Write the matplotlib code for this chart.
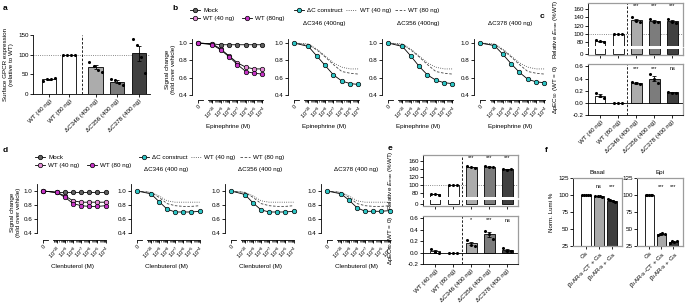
import numpy as np
import matplotlib
matplotlib.use('Agg')
import matplotlib.pyplot as plt
from matplotlib.lines import Line2D

plt.rcParams['font.family'] = ['Liberation Sans', 'DejaVu Sans']
plt.rcParams['mathtext.fontset'] = 'custom'
plt.rcParams['mathtext.rm'] = 'Liberation Sans'
plt.rcParams['mathtext.it'] = 'Liberation Sans:italic'
plt.rcParams['font.size'] = 4.5
plt.rcParams['axes.linewidth'] = 0.6
for k in ['xtick', 'ytick']:
    plt.rcParams[k + '.major.width'] = 0.6
    plt.rcParams[k + '.major.size'] = 2
    plt.rcParams[k + '.minor.width'] = 0.4
    plt.rcParams[k + '.minor.size'] = 1.2
    plt.rcParams[k + '.major.pad'] = 1.2
    plt.rcParams[k + '.labelsize'] = 4.5

# ---- data ----
constructs = ['WT (40 ng)', 'WT (80 ng)', 'ΔC346 (400 ng)', 'ΔC356 (400 ng)', 'ΔC378 (400 ng)']

# a: surface expression (% of WT 80 ng)
surface_pts = [[33, 37, 37, 41], [100, 100, 100, 100], [82, 70, 62, 57],
               [38, 35, 28, 23], [140, 125, 95, 53]]

# b/d: dose response, first value = vehicle (0), then 10^-10 .. 10^-4 M
log_conc = [-10, -9, -8, -7, -6, -5, -4]
epi_mock = [1.00, 0.99, 0.98, 0.98, 0.98, 0.98, 0.98, 0.98]
epi_wt40 = [1.00, 0.99, 0.93, 0.85, 0.77, 0.72, 0.70, 0.70]
epi_wt80 = [1.00, 0.98, 0.92, 0.84, 0.75, 0.67, 0.65, 0.64]
epi_dc = {'ΔC346 (400ng)': [1.00, 0.96, 0.85, 0.74, 0.63, 0.56, 0.53, 0.52],
          'ΔC356 (400ng)': [1.00, 0.96, 0.85, 0.73, 0.63, 0.57, 0.54, 0.53],
          'ΔC378 (400 ng)': [1.00, 0.97, 0.87, 0.76, 0.66, 0.58, 0.55, 0.54]}

clen_mock = [1.00, 0.98, 0.98, 0.98, 0.98, 0.98, 0.98, 0.98]
clen_wt40 = [1.00, 0.98, 0.93, 0.86, 0.84, 0.84, 0.84, 0.84]
clen_wt80 = [1.00, 0.98, 0.91, 0.82, 0.79, 0.78, 0.78, 0.79]
clen_dc = {'ΔC346 (400 ng)': [1.00, 0.96, 0.85, 0.74, 0.70, 0.70, 0.70, 0.71],
           'ΔC356 (400 ng)': [1.00, 0.95, 0.83, 0.73, 0.70, 0.70, 0.70, 0.71],
           'ΔC378 (400 ng)': [1.00, 0.96, 0.87, 0.76, 0.71, 0.71, 0.71, 0.72]}

# c: epinephrine Emax / dpEC50
emax_epi = [[84, 81, 80], [100, 100, 100], [140, 131, 129], [137, 128, 128], [136, 128, 127]]
dpec_epi = [[0.16, 0.12, 0.08], [0, 0, 0], [0.35, 0.32, 0.31], [0.47, 0.40, 0.32], [0.18, 0.17, 0.17]]
emax_epi_sig = ['', '', '***', '***', '***']
dpec_epi_sig = ['', '', '***', '***', 'ns']

# e: clenbuterol Emax / dpEC50
emax_clen = [[77, 78, 76], [100, 100, 100], [147, 145, 143], [148, 146, 144], [141, 138, 139]]
dpec_clen = [[0.06, 0.01, -0.01], [0, 0, 0], [0.22, 0.14, 0.12], [0.38, 0.33, 0.24], [0.08, 0.03, 0.03]]
emax_clen_sig = ['', '', '***', '***', '***']
dpec_clen_sig = ['', '', '*', '***', 'ns']

# f: luminescence
lumi_labels = ['Gs', 'β$_1$AR-s-CT + Gs', 'β$_1$AR-s + Gs']
basal_pts = [[100, 100, 100, 100, 100], [99, 98, 98, 97], [94, 92, 91, 90]]
epi_lumi_pts = [[100, 100, 100, 100, 100], [41, 43, 44, 42], [30, 32, 31, 33]]
basal_sig = ['', 'ns', '***']
epi_lumi_sig = ['', '***', '***']

# ---- style ----
C_MOCK, C_WT40, C_WT80, C_DC = '#606060', '#e68ad8', '#c733c7', '#2cc6c6'
BAR_COLORS = ['white', 'white', '#acacac', '#7c7c7c', '#404040']
FRAME = '#9c9c9c'
ZERO_X = -11.7

W, H = 685, 303
fig = plt.figure(figsize=(W / 100, H / 100), dpi=100)


def px(l, t, r, b):
    return [l / W, 1 - b / H, (r - l) / W, (b - t) / H]


def draw_bars(ax, xs, pts_list, colors, width, jit, points=True):
    for x, pts, c in zip(xs, pts_list, colors):
        m = np.mean(pts)
        s = np.std(pts, ddof=1) / np.sqrt(len(pts))
        ax.bar(x, m, width, color=c, edgecolor='k', lw=0.6, zorder=2)
        if not points:
            continue
        if s > 0:
            ax.errorbar(x, m, yerr=s, color='k', lw=0.6, capsize=1.5, capthick=0.6, zorder=3)
        ax.scatter(x + np.linspace(-jit, jit, len(pts)), pts, s=5, color='k', zorder=4, lw=0)


def rot_labels(ax, labels, size=4.5):
    ax.set_xticklabels(labels, rotation=45, ha='right', rotation_mode='anchor', fontsize=size)


# ---- a ----
ax = fig.add_axes(px(33, 35, 150, 94))
xa = [0, 1, 2.3, 3.35, 4.45]
draw_bars(ax, xa, surface_pts, BAR_COLORS, 0.7, 0.3)
ax.set_xlim(-0.8, 5.0)
ax.set_ylim(0, 150)
ax.set_yticks([0, 50, 100, 150])
ax.axhline(100, ls=':', color='#666666', lw=0.6, zorder=1)
ax.axvline(1.65, ls='--', color='k', lw=0.6, dashes=(3, 2))
ax.spines[['top', 'right']].set_visible(False)
ax.set_xticks(xa)
rot_labels(ax, constructs)
ax.set_ylabel('Surface GPCR expression\n(relative to WT)', labelpad=3)


# ---- b / d ----
def dose_axes(rect, ylo, yhi, xlabel, ylabel=None, title=None, pad=9):
    ax = fig.add_axes(rect)
    ax.set_xlim(-12.45, -3.7)
    ax.set_ylim(ylo, yhi)
    ax.spines[['top', 'right']].set_visible(False)
    ax.spines['left'].set_bounds(0.4, yhi)
    ax.spines['bottom'].set_bounds(-10.5, -3.9)
    ax.set_yticks([0.4, 0.6, 0.8, 1.0])
    ax.set_xticks([ZERO_X] + log_conc)
    rot_labels(ax, ['0'] + ['10$^{%d}$' % d for d in log_conc], size=4)
    minors = [d + np.log10(k) for d in range(-11, -4) for k in range(2, 10)]
    ax.set_xticks([m for m in minors if -10.5 <= m <= -4], minor=True)
    ax.plot([ZERO_X, ZERO_X + 0.6], [ylo, ylo], color='k', lw=0.6, clip_on=False)
    ax.set_xlabel(xlabel, labelpad=2)
    if ylabel:
        ax.set_ylabel(ylabel, labelpad=2)
    if title:
        ax.set_title(title, pad=pad, fontsize=4.5)
    return ax


def curve(ax, y, color=None, ls='-'):
    x = [ZERO_X] + log_conc
    if color is None:
        ax.plot(x, y, ls=ls, color='#444444', lw=0.6, zorder=2)
    else:
        ax.plot(x, y, '-', color='k', lw=0.6, marker='o', ms=3.2, mfc=color,
                mec='k', mew=0.5, zorder=3, clip_on=False)


def dose_row(lefts, top, bottom, ylo, yhi, xlabel, mock, wt40, wt80, dc, pad):
    w = lefts[1] - lefts[0] - 23
    ax = dose_axes(px(lefts[0], top, lefts[0] + w, bottom), ylo, yhi, xlabel,
                   ylabel='Signal change\n(fold over vehicle)')
    curve(ax, mock, C_MOCK)
    curve(ax, wt40, C_WT40)
    curve(ax, wt80, C_WT80)
    for l, (name, vals) in zip(lefts[1:], dc.items()):
        ax = dose_axes(px(l, top, l + w, bottom), ylo, yhi, xlabel, title=name, pad=pad)
        curve(ax, wt40, ls=':')
        curve(ax, wt80, ls=(0, (3, 2)))
        curve(ax, vals, C_DC)


dose_row([192, 288, 382, 474], 38.7, 100, 0.34, 1.05, 'Epinephrine (M)',
         epi_mock, epi_wt40, epi_wt80, epi_dc, 10)
dose_row([37, 131, 225, 321], 184, 240, 0.3, 1.1, 'Clenbuterol (M)',
         clen_mock, clen_wt40, clen_wt80, clen_dc, 9)


def mk(color):
    return Line2D([], [], color='k', lw=0.6, marker='o', ms=3.2, mfc=color, mec='k', mew=0.5)


blank = Line2D([], [], color='none')
for y0, wt80_name, x0, x1 in [(7.5, 'WT (80ng)', 190, 294), (154.5, 'WT (80 ng)', 35, 139)]:
    fig.legend([mk(C_MOCK), mk(C_WT40), blank, mk(C_WT80)],
               ['Mock', 'WT (40 ng)', '', wt80_name], ncol=2, frameon=False,
               loc='upper left', bbox_to_anchor=(x0 / W, 1 - y0 / H), borderaxespad=0,
               borderpad=0, handlelength=1.6, handletextpad=0.5, columnspacing=1.2,
               labelspacing=0.5, fontsize=4.5)
    fig.legend([mk(C_DC), Line2D([], [], color='#444444', lw=0.6, ls=':'),
                Line2D([], [], color='#444444', lw=0.6, ls=(0, (3, 2)))],
               ['ΔC construct', 'WT (40 ng)', 'WT (80 ng)'], ncol=3, frameon=False,
               loc='upper left', bbox_to_anchor=(x1 / W, 1 - y0 / H), borderaxespad=0,
               borderpad=0, handlelength=1.6, handletextpad=0.5, columnspacing=0.6,
               fontsize=4.5)


# ---- c / e ----
def frame(ax, sides):
    for s in sides:
        ax.spines[s].set_color(FRAME)
        ax.spines[s].set_linewidth(0.9)


def emax_block(l, r, t, gap_top, low_bot, dp_top, dp_bot, emax, dpec, emax_sig, dpec_sig):
    xc = np.arange(5)
    # upper part of the broken Emax axis
    up = fig.add_axes(px(l, t, r, gap_top))
    draw_bars(up, xc, emax, BAR_COLORS, 0.6, 0.22)
    up.set_ylim(70, 175)
    up.set_xlim(-0.67, 4.6)
    up.set_yticks([80, 100, 120, 140, 160])
    up.set_xticks([])
    up.spines['bottom'].set_visible(False)
    frame(up, ['top', 'right'])
    up.axhline(100, ls=':', color='#666666', lw=0.6, zorder=1)
    up.axvline(1.5, ls='--', color='k', lw=0.6, dashes=(3, 2))
    for x, s in zip(xc, emax_sig):
        up.text(x, 168, s, ha='center', va='center', fontsize=4)
    up.set_ylabel('Relative $E_{max}$ (%WT)')
    up.yaxis.set_label_coords(-0.29, 0.4)
    # lower stub (0)
    lo = fig.add_axes(px(l, gap_top + 2.5, r, low_bot))
    draw_bars(lo, xc, emax, BAR_COLORS, 0.6, 0.22, points=False)
    lo.set_ylim(-1.5, 4.5)
    lo.set_xlim(-0.67, 4.6)
    lo.set_yticks([0])
    lo.set_xticks(xc)
    lo.set_xticklabels([])
    lo.spines['top'].set_visible(False)
    frame(lo, ['right', 'bottom'])
    lo.axvline(1.5, ls='--', color='k', lw=0.6, dashes=(3, 2))
    # dpEC50
    dp = fig.add_axes(px(l, dp_top, r, dp_bot))
    draw_bars(dp, xc, dpec, BAR_COLORS, 0.6, 0.22)
    dp.set_ylim(-0.2, 0.64)
    dp.set_xlim(-0.67, 4.6)
    dp.set_yticks([-0.2, 0, 0.2, 0.4, 0.6])
    dp.set_yticklabels(['-0.2', '0.0', '0.2', '0.4', '0.6'])
    dp.axhline(0, color='k', lw=0.6, zorder=1)
    dp.axvline(1.5, ls='--', color='k', lw=0.6, dashes=(3, 2))
    frame(dp, ['top', 'right'])
    for x, s in zip(xc, dpec_sig):
        dp.text(x, 0.57, s, ha='center', va='center', fontsize=4)
    dp.set_xticks(xc)
    rot_labels(dp, constructs)
    dp.set_ylabel('ΔpEC$_{50}$ (WT = 0)')
    dp.yaxis.set_label_coords(-0.29, 0.5)


emax_block(588, 683, 3, 46, 55.5, 64, 115, emax_epi, dpec_epi, emax_epi_sig, dpec_epi_sig)
emax_block(423, 518, 155, 197, 205.5, 216, 264, emax_clen, dpec_clen, emax_clen_sig, dpec_clen_sig)


# ---- f ----
def lumi_axes(l, r, pts, sig, title, ylabel=None):
    ax = fig.add_axes(px(l, 178, r, 246))
    xs = np.arange(3)
    draw_bars(ax, xs, pts, ['white', '#a9a9a9', '#3d3d3d'], 0.75, 0.28)
    ax.set_ylim(25, 125)
    ax.set_xlim(-1.0, 2.8)
    ax.set_yticks([25, 50, 75, 100, 125])
    frame(ax, ['top', 'right', 'bottom'])
    for x, s in zip(xs, sig):
        ax.text(x, 112, s, ha='center', va='center', fontsize=4)
    ax.set_xticks(xs)
    rot_labels(ax, lumi_labels)
    ax.set_title(title, pad=3, fontsize=4.5)
    if ylabel:
        ax.set_ylabel(ylabel, labelpad=3)


lumi_axes(573, 622, basal_pts, basal_sig, 'Basal', 'Norm. Lumi %')
lumi_axes(637, 683, epi_lumi_pts, epi_lumi_sig, 'Epi')

# panel letters
for letter, x, y in [('a', 3, 8), ('b', 172, 8), ('c', 540, 17), ('d', 3, 150),
                     ('e', 388, 148), ('f', 545, 150)]:
    fig.text(x / W, 1 - y / H, letter, fontsize=6, fontweight='bold', va='center')

fig.savefig('out.png', dpi=100)
